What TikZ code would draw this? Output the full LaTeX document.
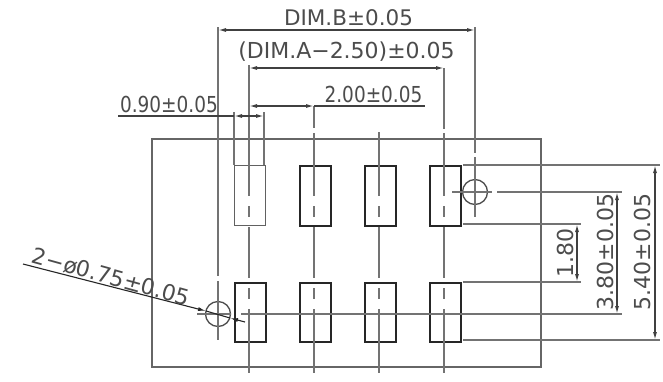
\documentclass[tikz,border=0pt]{standalone}
\usepackage{fontspec}
\setmainfont{DejaVu Sans}
\usetikzlibrary{arrows.meta}
\tikzset{
 thinl/.style={draw=black!55,line width=1.4pt},
 boxl/.style={draw=black!85,line width=2.2pt},
 padlight/.style={draw=black!62,line width=1.6pt},
 tiparrow/.tip={Latex[length=8pt,width=4pt]},
 dimline/.style={draw=black!75,line width=1.3pt,tiparrow-tiparrow},
 lbl/.style={text=black!70,inner sep=0pt},
 lblbig/.style={lbl,font=\fontsize{22}{24}\selectfont},
}
\newcommand{\narrowtxt}[1]{\scalebox{0.84}[1]{#1}}
\begin{document}
\begin{tikzpicture}[x=1pt,y=-1pt]
\useasboundingbox[fill=white] (0,0) rectangle (663,381);
% outline
\node[draw=black!60,line width=1.6pt,minimum width=389pt,minimum height=228pt,inner sep=0pt,anchor=north west] (body) at (151.3,138.3) {};
% pads
\foreach \n/\x/\st in {a/233.5/padlight,b/298.5/boxl,c/363.5/boxl,d/428.5/boxl}{
 \node[\st,minimum width=31pt,minimum height=60pt,inner sep=0pt,anchor=north west] (t\n) at (\x,164.5) {};
 \node[boxl,minimum width=31pt,minimum height=59pt,inner sep=0pt,anchor=north west] (b\n) at (\x,281.5) {};
}
% holes
\node[circle,draw=black!70,line width=1.3pt,minimum size=25pt,inner sep=0pt] (h1) at (475,192) {};
\node[circle,draw=black!70,line width=1.3pt,minimum size=25pt,inner sep=0pt] (h2) at (218,314) {};
% centre lines
\draw[thinl] (249,65) -- (249,196);
\draw[thinl] (314,106) -- (314,128) (314,133) -- (314,196);
\draw[thinl] (379,132) -- (379,196);
\draw[thinl] (444,68) -- (444,129) (444,133) -- (444,196);
\foreach \x in {249,314,379,444}{
 \draw[thinl] (\x,206) -- (\x,217);
 \draw[thinl] (\x,227) -- (\x,278);
 \draw[thinl] (\x,288) -- (\x,299);
 \draw[thinl] (\x,309) -- (\x,373);
}
% extension
\draw[thinl] (218,27) -- (218,276);
\draw[thinl] (218,281) -- (218,340);
\draw[thinl] (475,27) -- (475,153);
\draw[thinl] (475,157) -- (475,217);
\draw[thinl] (234,112) -- (234,165);
\draw[thinl] (264,112) -- (264,165);
\draw[thinl] (197,314) -- (231,314);
\draw[thinl] (241,314) -- (622,314);
\draw[thinl] (452,192) -- (492,192);
\draw[thinl] (497,192) -- (622,192);
\draw[thinl] (463,165) -- (660,165);
\draw[thinl] (463,224) -- (581,224);
\draw[thinl] (463,282) -- (581,282);
\draw[thinl] (463,340) -- (660,340);
% dims
\coordinate (bl) at (218,30); \coordinate (br) at (475,30);
\draw[dimline] (bl) -- (br);
\coordinate (al) at (249,68); \coordinate (ar) at (444,68);
\draw[dimline] (al) -- (ar);
\coordinate (cl) at (249,106); \coordinate (cr) at (314,106); \coordinate (ce) at (425,106);
\draw[dimline] (cl) -- (cr);
\draw[black!75,line width=1.3pt] (cr) -- (ce);
\coordinate (dl) at (118,116); \coordinate (dm) at (234,116); \coordinate (dr) at (264,116);
\draw[black!75,line width=1.3pt] (dl) -- (dm);
\draw[dimline] (dm) -- (dr);
\coordinate (e1) at (577,224); \coordinate (e2) at (577,282);
\draw[dimline] (e1) -- (e2);
\coordinate (f1) at (617,192); \coordinate (f2) at (617,314);
\draw[dimline] (f1) -- (f2);
\coordinate (g1) at (655,165); \coordinate (g2) at (655,340);
\draw[dimline] (g1) -- (g2);
\coordinate (l1) at (23,264); \coordinate (l2) at (245,322);
\coordinate (t1) at (206,311); \coordinate (t2) at (230,318);
\draw[draw=black!85,line width=1.1pt,-tiparrow] (l1) -- (t1);
\draw[draw=black!85,line width=1.1pt] (t1) -- (t2);
\draw[draw=black!85,line width=1.1pt,-tiparrow] (l2) -- (t2);
% labels
\node[lbl,font=\fontsize{21.5}{24}\selectfont] (tb) at (348.5,18) {DIM.B±0.05};
\node[lblbig] (ta) at (346.5,52) {(DIM.A−2.50)±0.05};
\node[lblbig] (tc) at (373.5,94) {\narrowtxt{2.00±0.05}};
\node[lblbig] (td) at (169,104) {\narrowtxt{0.90±0.05}};
\node[lblbig,rotate=90] (te) at (565,253) {1.80};
\node[lblbig,rotate=90] (tf) at (605,252) {3.80±0.05};
\node[lblbig,rotate=90] (tg) at (642,252) {5.40±0.05};
\node[lblbig,rotate=-15.5] (th) at (111,277) {2−ø0.75±0.05};
\end{tikzpicture}
\end{document}
